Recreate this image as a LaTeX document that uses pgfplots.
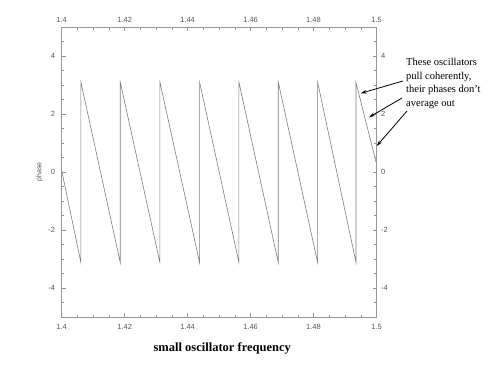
\documentclass[border=0pt]{standalone}
\usepackage{fontspec}
\setmainfont{Liberation Serif}
\setsansfont{Liberation Sans}
\usepackage{pgfplots}
\pgfplotsset{compat=1.18}
\usetikzlibrary{arrows.meta}
\definecolor{axgray}{RGB}{150,150,150}
\definecolor{linegray}{RGB}{125,125,125}
\definecolor{labgray}{RGB}{85,85,85}

\pgfplotsset{
  phasebox/.style={
    scale only axis, width=314.8pt, height=290pt,
    at={(61.7pt,51pt)}, anchor=south west,
    xmin=1.4, xmax=1.5, ymin=-5, ymax=5,
    xtick={1.4,1.42,1.44,1.46,1.48,1.5},
    xticklabels={1.4,1.42,1.44,1.46,1.48,1.5},
    ytick={-4,-2,0,2,4},
    yticklabels={-4,-2,0,2,4},
    minor xtick={1.405,1.41,1.415,1.425,1.43,1.435,1.445,1.45,1.455,1.465,1.47,1.475,1.485,1.49,1.495},
    minor ytick={-4.5,-3.5,-3,-2.5,-1.5,-1,-0.5,0.5,1,1.5,2.5,3,3.5,4.5},
    tick align=inside,
    major tick length=4pt, minor tick length=2.5pt,
    tick style={axgray, line width=0.5pt},
    axis line style={axgray, line width=0.6pt},
    tick label style={labgray, font=\sffamily\fontsize{7.5}{8}\selectfont},
  }
}

\begin{document}
\begin{tikzpicture}[x=1pt, y=1pt]
\path[use as bounding box] (0,0) rectangle (491,368);

% lower/left labels and the data
\begin{axis}[phasebox,
    xticklabel pos=lower, yticklabel pos=left,
    xticklabel style={yshift=-3.5pt},
    yticklabel style={xshift=-3pt},
    ylabel={phase},
    ylabel style={labgray, font=\sffamily\fontsize{7}{8}\selectfont,
      at={(axis description cs:-0.07,0.5)}, anchor=center},
    xlabel={small oscillator frequency},
    xlabel style={font=\bfseries\fontsize{12.5}{14}\selectfont,
      at={(axis description cs:0.51,-0.107)}, anchor=center},
  ]
  \addplot[linegray, line width=0.6pt] coordinates {
    (1.4,0.05) (1.4061,-3.12)
    (1.4061,3.1) (1.4186,-3.12)
    (1.4186,3.1) (1.4312,-3.12)
    (1.4312,3.1) (1.4438,-3.12)
    (1.4438,3.1) (1.4563,-3.12)
    (1.4563,3.1) (1.4688,-3.12)
    (1.4688,3.1) (1.4813,-3.12)
    (1.4813,3.1) (1.4935,-3.12)
    (1.4935,3.08) (1.5,0.28)
  };
\end{axis}

% upper/right labels
\begin{axis}[phasebox,
    xticklabel pos=upper, yticklabel pos=right,
    xticklabel style={yshift=0.5pt},
    yticklabel style={xshift=1pt},
  ]
\end{axis}

% annotation
\begin{scope}[font=\fontsize{10.5}{13}\selectfont]
  \node[anchor=base west, inner sep=0] at (406,302.3) {These oscillators};
  \node[anchor=base west, inner sep=0] at (406,288.7) {pull coherently,};
  \node[anchor=base west, inner sep=0] at (406,275.1) {their phases don't};
  \node[anchor=base west, inner sep=0] at (406,261.5) {average out};
\end{scope}
\begin{scope}[-{Stealth[length=6pt,width=3.5pt]}, line width=0.8pt]
  \draw (403,287) -- (360.7,274.7);
  \draw (402,270) -- (369,250.7);
  \draw (407,257) -- (376.7,222);
\end{scope}
\end{tikzpicture}
\end{document}
